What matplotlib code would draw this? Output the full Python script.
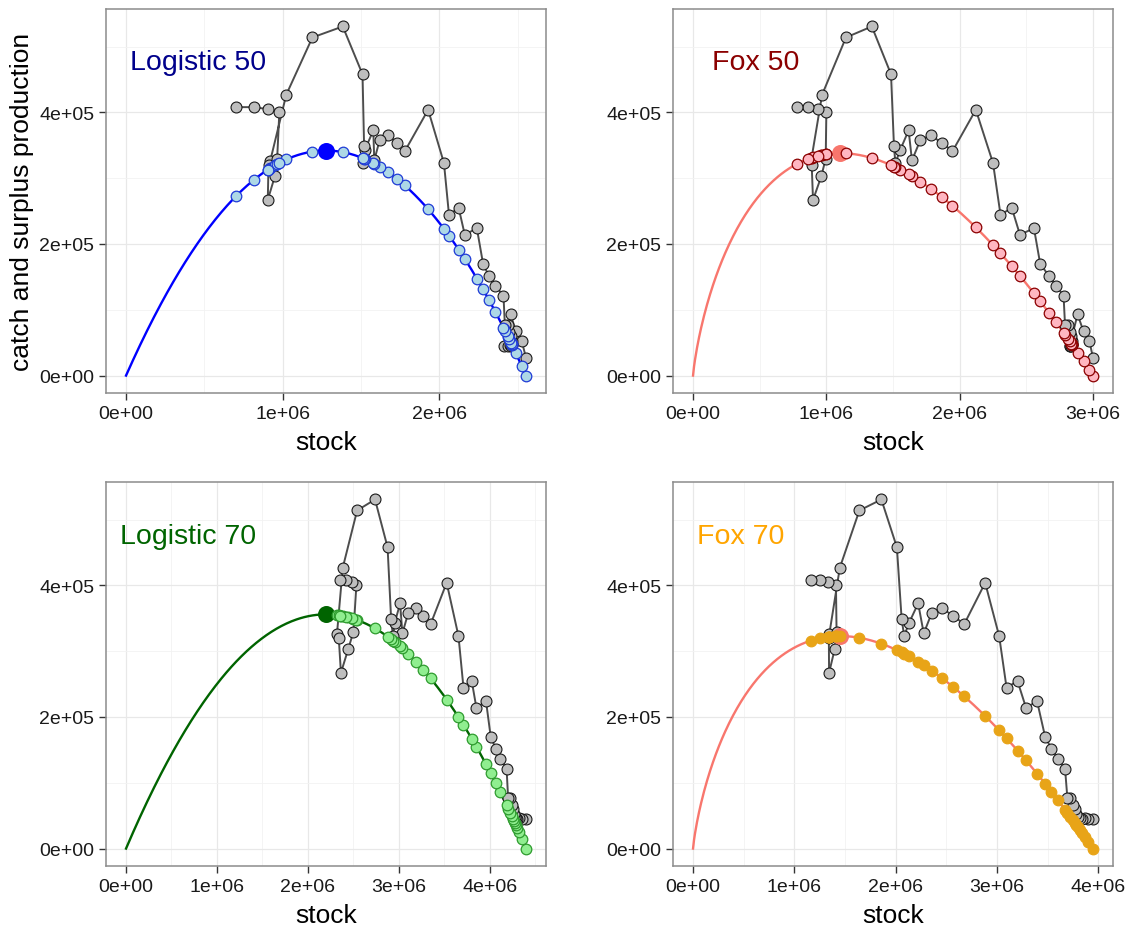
import numpy as np
import matplotlib.pyplot as plt
from matplotlib.ticker import FuncFormatter, MultipleLocator

plt.rcParams['font.family'] = ['Liberation Sans', 'DejaVu Sans']

# catch by year (thousand t); the 50 fits start four years earlier
catch_early = [27, 52, 67, 93]
catch_late = [45.6, 45.6, 47, 45, 46, 48, 52, 60, 66, 77, 77,
              121.5, 136.7, 152, 169.6, 224, 214, 254.7, 244.6,
              323, 404, 341, 354, 365, 358.5, 327, 372.7,
              343, 323, 349, 458, 530.6, 513.9, 426.8, 325.6,
              320.5, 267, 302.8, 329.6, 400.5, 405, 408, 408]

# estimated stock by year (million t) for each fit
stock_logistic50 = [2.554, 2.527, 2.489, 2.456, 2.4135, 2.439, 2.452, 2.458, 2.462, 2.464,
                    2.462, 2.458, 2.447, 2.436, 2.419,
                    2.41, 2.357, 2.316, 2.28, 2.24, 2.163, 2.124, 2.062, 2.03, 1.929,
                    1.78, 1.728, 1.675, 1.62, 1.585, 1.579, 1.525, 1.515, 1.52, 1.51,
                    1.384, 1.19, 1.023, 0.92, 0.91, 0.905, 0.95, 0.965, 0.979, 0.904,
                    0.815, 0.703]
stock_fox50 = [3.0, 2.973, 2.929, 2.884, 2.826, 2.831, 2.836, 2.838, 2.841, 2.842,
               2.841, 2.837, 2.825, 2.811, 2.790,
               2.779, 2.723, 2.668, 2.604, 2.557, 2.452, 2.391, 2.306, 2.25, 2.121,
               1.946, 1.866, 1.783, 1.706, 1.642, 1.617, 1.554, 1.518, 1.507, 1.485,
               1.341, 1.147, 0.968, 0.885, 0.89, 0.9, 0.962, 0.995, 1.0, 0.934,
               0.863, 0.783]
stock_logistic70 = [4.4, 4.354, 4.323, 4.301, 4.287, 4.277, 4.268, 4.257, 4.242, 4.225, 4.203,
                    4.186, 4.118, 4.067, 4.012, 3.96, 3.854, 3.803, 3.712, 3.657, 3.527,
                    3.35, 3.27, 3.19, 3.105, 3.04, 3.015, 2.956, 2.936, 2.916, 2.877,
                    2.739, 2.542, 2.384, 2.32, 2.34, 2.364, 2.443, 2.502, 2.534, 2.483,
                    2.424, 2.357]
stock_fox70 = [3.946, 3.900, 3.865, 3.836, 3.815, 3.798, 3.780, 3.764, 3.744, 3.722, 3.693,
               3.67, 3.601, 3.535, 3.474, 3.394, 3.285, 3.201, 3.093, 3.02, 2.882,
               2.675, 2.566, 2.457, 2.356, 2.276, 2.221, 2.131, 2.083, 2.058, 2.011,
               1.858, 1.641, 1.448, 1.344, 1.340, 1.342, 1.397, 1.416, 1.41, 1.335,
               1.25, 1.163]

# fitted carrying capacity (million t) and MSY (thousand t)
K_fit = [2.554, 3.0, 4.4, 3.946]
msy_fit = [342, 338, 356, 323]
model_names = ['Logistic 50', 'Fox 50', 'Logistic 70', 'Fox 70']


def logistic(b, k, msy):
    x = b / k
    return 4 * msy * x * (1 - x)


def fox(b, k, msy):
    x = np.clip(b / k, 1e-12, None)
    return -np.e * msy * x * np.log(x)


panels = [
    dict(stock=stock_logistic50, catch=catch_early + catch_late, prod=logistic,
         line='#0000ff', fill='#add8e6', edge='#1f3bd6', msy='#0000ff', label='#00008b'),
    dict(stock=stock_fox50, catch=catch_early + catch_late, prod=fox,
         line='#f8766d', fill='#ffb6c1', edge='#8b0000', msy='#f8766d', label='#8b0000'),
    dict(stock=stock_logistic70, catch=catch_late, prod=logistic,
         line='#006400', fill='#90ee90', edge='#2e9b2e', msy='#006400', label='#006400'),
    dict(stock=stock_fox70, catch=catch_late, prod=fox,
         line='#f8766d', fill='#e8a417', edge='#e8a417', msy='#f8766d', label='#ffa500'),
]

rects = [[0.0935, 0.5754, 0.388, 0.4138], [0.5935, 0.5754, 0.388, 0.4138],
         [0.0935, 0.0657, 0.388, 0.4138], [0.5935, 0.0657, 0.388, 0.4138]]
label_pos = [(0.055, 0.862), (0.089, 0.862), (0.032, 0.86), (0.055, 0.86)]

sci = FuncFormatter(lambda v, pos: f'{v:.0e}')

fig = plt.figure(figsize=(11.34, 9.28), dpi=100)

for i, p in enumerate(panels):
    ax = fig.add_axes(rects[i])
    k = K_fit[i] * 1e6
    msy = msy_fit[i] * 1e3
    b = np.array(p['stock']) * 1e6
    c = np.array(p['catch']) * 1e3

    grid = np.linspace(0, k, 400)
    ax.plot(grid, p['prod'](grid, k, msy), color=p['line'], lw=1.7, zorder=2)

    ax.plot(b, c, color='#4d4d4d', lw=1.4, zorder=3)
    ax.scatter(b, c, s=62, facecolor='#bebebe', edgecolor='#1a1a1a', lw=0.8, zorder=4)

    bmsy = k / 2 if p['prod'] is logistic else k / np.e
    ax.scatter([bmsy], [p['prod'](bmsy, k, msy)], s=150, color=p['msy'], lw=0, zorder=5)
    ax.scatter(b, p['prod'](b, k, msy), s=58, facecolor=p['fill'],
               edgecolor=p['edge'], lw=0.9, zorder=6)

    ax.text(*label_pos[i], model_names[i], transform=ax.transAxes, ha='left',
            va='center', fontsize=20.5, color=p['label'])

    ymax = max(c)
    ax.set_xlim(-0.05 * k, 1.05 * k)
    ax.set_ylim(-0.05 * ymax, 1.05 * ymax)
    ax.xaxis.set_major_locator(MultipleLocator(1e6))
    ax.xaxis.set_minor_locator(MultipleLocator(5e5))
    ax.yaxis.set_major_locator(MultipleLocator(2e5))
    ax.yaxis.set_minor_locator(MultipleLocator(1e5))
    ax.xaxis.set_major_formatter(sci)
    ax.yaxis.set_major_formatter(sci)
    ax.grid(which='major', color='#e8e8e8', lw=0.9)
    ax.grid(which='minor', color='#f2f2f2', lw=0.6)
    ax.set_axisbelow(True)
    ax.tick_params(which='major', labelsize=14, length=5, width=1,
                   color='#333333', labelcolor='#1a1a1a')
    ax.tick_params(which='minor', length=0)
    for s in ax.spines.values():
        s.set_color('#8c8c8c')
        s.set_linewidth(1.1)
    ax.set_xlabel('stock', fontsize=19, labelpad=6)
    if i == 0:
        ax.set_ylabel('catch and surplus production', fontsize=19, labelpad=4)

fig.savefig('out.png', dpi=100)
